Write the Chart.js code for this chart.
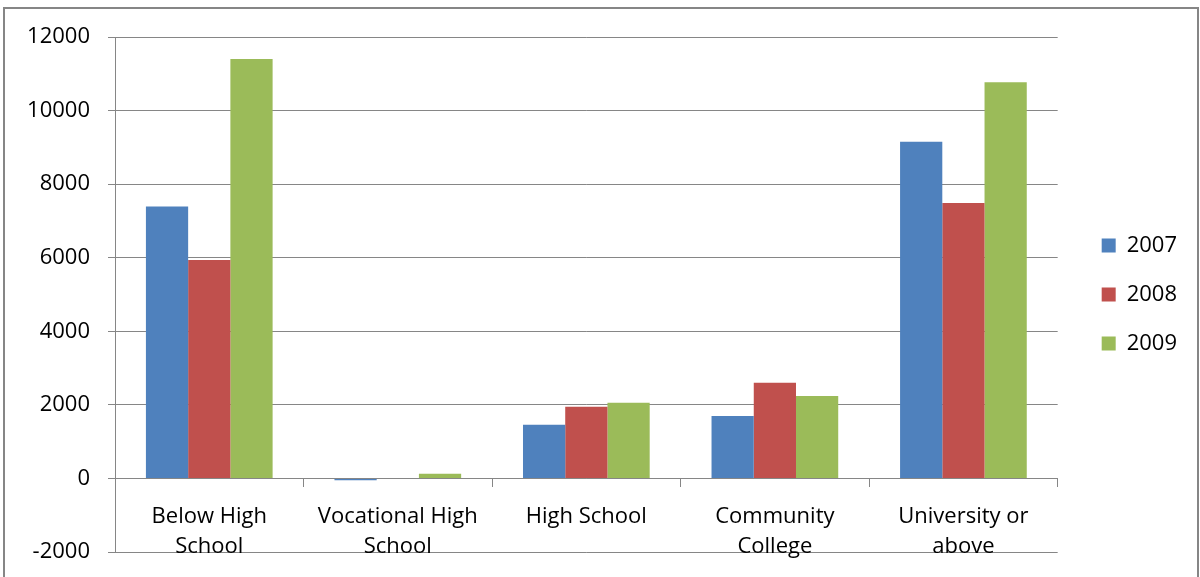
<!DOCTYPE html>
<html>
<head>
<meta charset="utf-8">
<script src="https://cdn.jsdelivr.net/npm/chart.js@4/dist/chart.umd.min.js"></script>
<style>
  html, body { margin:0; padding:0; background:#fff; overflow:hidden; }
  #wrap { position:relative; width:1200px; height:577px; }
  #frame { position:absolute; left:3px; top:7px; width:1192px; height:590px; border:2px solid #868686; }
  #chart { position:absolute; left:0; top:0; }
</style>
</head>
<body>
<div id="wrap">
  <div id="frame"></div>
  <canvas id="chart" width="1200" height="577"></canvas>
</div>
<script>
  // Education categories
  const categories = [
    ['Below High', 'School'],
    ['Vocational High', 'School'],
    'High School',
    ['Community', 'College'],
    ['University or', 'above']
  ];
  const years   = ['2007', '2008', '2009'];
  const v2007   = [7390, -50, 1460, 1700, 9150];
  const v2008   = [5940, 0, 1950, 2600, 7490];
  const v2009   = [11400, 130, 2060, 2240, 10770];
  const yTicks  = [-2000, 0, 2000, 4000, 6000, 8000, 10000, 12000];
  const colors  = ['#4F81BD', '#C0504D', '#9BBB59'];

  const FONT = "'Open Sans', 'Liberation Sans', sans-serif";
  const GRID = '#868686';

  const series = [v2007, v2008, v2009];
  const datasets = years.map((y, i) => ({
    label: y,
    data: series[i],
    backgroundColor: colors[i],
    borderWidth: 0,
    categoryPercentage: 0.672,
    barPercentage: 1.0
  }));

  new Chart(document.getElementById('chart'), {
    type: 'bar',
    data: { labels: categories, datasets },
    options: {
      responsive: false,
      animation: false,
      layout: { padding: { top: 37, bottom: 25, left: 0, right: 13 } },
      plugins: {
        tooltip: { enabled: false },
        legend: {
          position: 'right',
          align: 'center',
          labels: {
            color: '#000',
            font: { family: FONT, size: 22 },
            boxWidth: 14,
            boxHeight: 14,
            padding: 27
          }
        }
      },
      scales: {
        x: {
          position: { y: 0 },
          grid: { drawOnChartArea: false, drawTicks: true, tickLength: 8, offset: true, color: GRID, lineWidth: 1 },
          border: { display: true, color: GRID, width: 1 },
          ticks: { color: '#000', font: { family: FONT, size: 22, lineHeight: 1.36 }, padding: 15, maxRotation: 0, autoSkip: false }
        },
        y: {
          min: yTicks[0],
          max: yTicks[yTicks.length - 1],
          afterBuildTicks: s => { s.ticks = yTicks.map(v => ({ value: v })); },
          // fixed axis width; keep the label padding from pushing the plot up
          afterFit: s => { s.width = 115; s.paddingTop = 13; s.paddingBottom = 13; },
          grid: { color: GRID, lineWidth: 1, tickLength: 7, drawTicks: true },
          border: { display: true, color: GRID, width: 1 },
          ticks: { color: '#000', font: { family: FONT, size: 22 }, padding: 18, callback: v => String(v) }
        },
        gap: {
          position: 'right',
          display: true,
          grid: { display: false },
          border: { display: false },
          ticks: { display: false },
          afterFit: s => { s.width = 17; }
        }
      }
    }
  });
</script>
</body>
</html>
